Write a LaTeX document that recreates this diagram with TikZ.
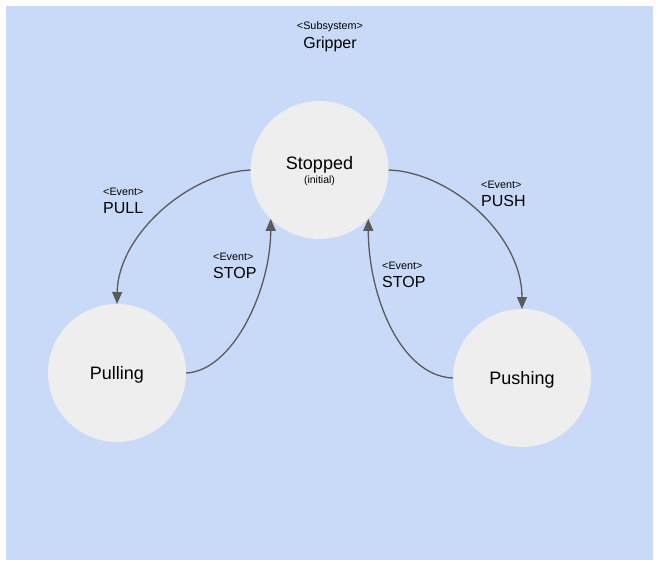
\documentclass[tikz,border=0pt]{standalone}
\usepackage{fontspec}
\setmainfont{Liberation Sans}
\usetikzlibrary{arrows.meta}
\definecolor{panelblue}{HTML}{C9DAF8}
\definecolor{stategray}{HTML}{EEEEEE}
\definecolor{edgegray}{HTML}{5A5A5A}

\begin{document}
\begin{tikzpicture}
  [x=1pt,y=-1pt,
   state/.style={circle,fill=stategray,minimum size=138pt,inner sep=0pt,outer sep=0pt,text depth=0pt,font=\fontsize{18}{20}\selectfont},
   evtag/.style={inner sep=0pt,anchor=base west,font=\fontsize{10.8}{12}\selectfont},
   evname/.style={inner sep=0pt,anchor=base west,font=\fontsize{16}{18}\selectfont},
   trans/.style={draw=edgegray,line width=1.3pt,-{Triangle[length=12pt,width=10pt]}}]

  \fill[panelblue] (5.5,6) rectangle (653.3,560);
  \useasboundingbox (0,0) rectangle (658,564);

  \node[evtag,anchor=base] (subsys) at (330,30) {<Subsystem>};
  \node[evname,anchor=base] (gripper) at (330,49) {Gripper};

  \node[state,align=center] (stopped) at (319.5,170) {Stopped\\[-5.3pt]{\fontsize{10.5}{12}\selectfont (initial)}};
  \node[state] (pulling) at (117,373) {Pulling};
  \node[state] (pushing) at (522,378) {Pushing};

  \node[evtag] (pullev) at (103,195) {<Event>};
  \node[evname] (pullname) at (103,213) {PULL};
  \node[evtag] (stopLev) at (213,260) {<Event>};
  \node[evname] (stopLname) at (213,278) {STOP};
  \node[evtag] (pushev) at (481,189) {<Event>};
  \node[evname] (pushname) at (481,207) {PUSH};
  \node[evtag] (stopRev) at (382,269) {<Event>};
  \node[evname] (stopRname) at (382,287) {STOP};

  \draw[trans] (stopped.west) .. controls +(-62,3) and +(1,-69) .. (pulling.north);
  \draw[trans] (pulling.east) .. controls +(47,-2) and +(0,71) .. (stopped.225);
  \draw[trans] (stopped.east) .. controls +(62,2) and +(0,-74) .. (pushing.north);
  \draw[trans] (pushing.west) .. controls +(-53,-2) and +(0,76) .. (stopped.315);

\end{tikzpicture}
\end{document}
